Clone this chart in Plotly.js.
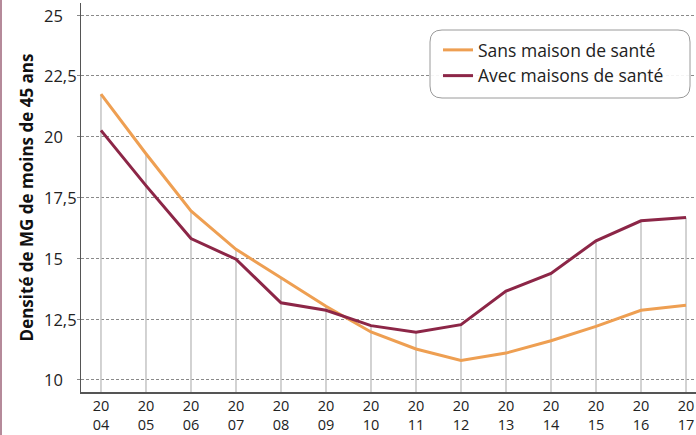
<!DOCTYPE html>
<html>
<head>
<meta charset="utf-8">
<script src="https://cdn.plot.ly/plotly-3.0.1.min.js"></script>
<style>
  html, body { margin: 0; padding: 0; background: #fff; }
  #chart { width: 696px; height: 435px; box-sizing: border-box; border-left: 2px solid #b58a9a; }
</style>
</head>
<body>
<div id="chart"></div>
<script>
// ---- data ----
const years = [2004, 2005, 2006, 2007, 2008, 2009, 2010, 2011, 2012, 2013, 2014, 2015, 2016, 2017];
const xTickText = ["20<br>04", "20<br>05", "20<br>06", "20<br>07", "20<br>08", "20<br>09", "20<br>10",
                   "20<br>11", "20<br>12", "20<br>13", "20<br>14", "20<br>15", "20<br>16", "20<br>17"];
const sansMaison = [21.75, 19.3, 16.95, 15.37, 14.2, 13.03, 11.97, 11.27, 10.8, 11.1, 11.61, 12.2, 12.86, 13.07];
const avecMaisons = [20.26, 17.99, 15.81, 14.96, 13.17, 12.86, 12.23, 11.96, 12.27, 13.65, 14.38, 15.72, 16.54, 16.68];
const yTickVals = [10, 12.5, 15, 17.5, 20, 22.5, 25];
const yTickText = ["10", "12,5", "15", "17,5", "20", "22,5", "25"];
const seriesNames = ["Sans maison de santé", "Avec maisons de santé"];
const yTitle = "Densité de MG de moins de 45 ans";

// ---- layout constants ----
const W = 696, H = 435;
const M = { l: 79, r: 0, t: 3, b: 43 };
const plotW = W - 2 - M.l - M.r; // account for border
const yRange = [9.5, 25.5];
const xRange = [2003.556, 2017.222];

// drop lines from axis bottom to the higher of the two series
const dropX = [], dropY = [];
years.forEach((yr, i) => {
  dropX.push(yr, yr, null);
  dropY.push(yRange[0], Math.max(sansMaison[i], avecMaisons[i]), null);
});

const font = "'Open Sans', 'Noto Sans', sans-serif";

const traces = [
  { x: dropX, y: dropY, mode: 'lines', line: { color: '#c4c4c4', width: 1.5 },
    hoverinfo: 'skip', showlegend: false, cliponaxis: false },
  { x: years, y: sansMaison, name: seriesNames[0], mode: 'lines',
    line: { color: '#ee9f52', width: 3 } },
  { x: years, y: avecMaisons, name: seriesNames[1], mode: 'lines',
    line: { color: '#8c2647', width: 3 } }
];

// rounded legend box (paper coords)
const plotH = H - M.t - M.b;
function px2paperX(px) { return (px - 2 - M.l) / plotW; }
function px2paperY(py) { return (H - M.b - py) / plotH; }
const bx0 = px2paperX(430), bx1 = px2paperX(690), by0 = px2paperY(98), by1 = px2paperY(30);
const rx = 12 / plotW, ry = 12 / plotH;
const boxPath = `M ${bx0 + rx} ${by1} L ${bx1 - rx} ${by1} Q ${bx1} ${by1} ${bx1} ${by1 - ry} ` +
  `L ${bx1} ${by0 + ry} Q ${bx1} ${by0} ${bx1 - rx} ${by0} L ${bx0 + rx} ${by0} ` +
  `Q ${bx0} ${by0} ${bx0} ${by0 + ry} L ${bx0} ${by1 - ry} Q ${bx0} ${by1} ${bx0 + rx} ${by1} Z`;

// y tick labels, left aligned
const yAnn = yTickVals.map((v, i) => ({
  x: px2paperX(42), xref: 'paper', xanchor: 'left',
  y: v, yref: 'y', yanchor: 'middle',
  text: yTickText[i], showarrow: false,
  font: { family: font, size: 16.5, color: '#222' }
}));

const layout = {
  width: W - 2, height: H,
  margin: M,
  paper_bgcolor: '#fff', plot_bgcolor: '#fff',
  showlegend: true,
  legend: {
    x: px2paperX(438), y: px2paperY(32), xanchor: 'left', yanchor: 'top',
    bgcolor: 'rgba(0,0,0,0)', borderwidth: 0,
    font: { family: font, size: 17.5, color: '#222' },
    tracegroupgap: 0, itemwidth: 30
  },
  xaxis: {
    range: xRange, tickmode: 'array', tickvals: years, ticktext: xTickText,
    showgrid: false, zeroline: false,
    showline: true, linecolor: '#555', linewidth: 1.5,
    ticks: '', ticklabelstandoff: 0,
    tickfont: { family: font, size: 14.5, color: '#222' }
  },
  yaxis: {
    range: yRange, tickmode: 'array', tickvals: yTickVals, ticktext: yTickText,
    showticklabels: false,
    showgrid: true, gridcolor: '#8a8a8a', gridwidth: 1, griddash: '3px,2px',
    zeroline: false,
    showline: true, linecolor: '#555', linewidth: 1.5,
    ticks: 'outside', ticklen: 3, tickcolor: '#888',
    title: { text: '<b>' + yTitle + '</b>', font: { family: font, size: 17, color: '#111' }, standoff: 38 }
  },
  shapes: [
    { type: 'path', xref: 'paper', yref: 'paper', path: boxPath,
      line: { color: '#9a9a9a', width: 1 }, fillcolor: 'rgba(255,255,255,0.9)', layer: 'above' }
  ],
  annotations: yAnn
};

Plotly.newPlot('chart', traces, layout, { displayModeBar: false, staticPlot: true });
</script>
</body>
</html>
